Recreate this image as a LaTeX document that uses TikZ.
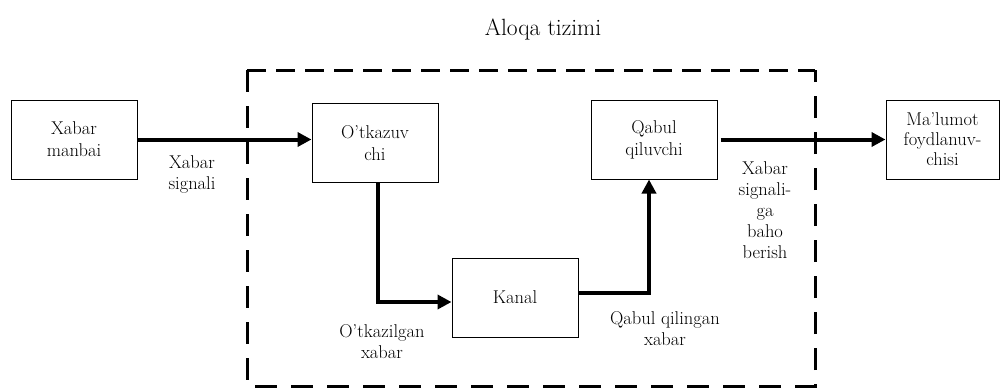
\documentclass[tikz,border=0pt]{standalone}
\usepackage{tikz}
\usetikzlibrary{positioning}
\usetikzlibrary{arrows.meta}
\usetikzlibrary{calc}
\tikzstyle{block}=[rectangle,draw,line width=1pt,minimum width=126pt,minimum height=79pt,inner sep=2pt,align=center,font=\fontsize{18.5}{22}\selectfont]
\tikzstyle{edge} = [draw,line width=4pt,-{Triangle[length=14pt,width=14pt]}]
\tikzstyle{weight} = [align=center,font=\fontsize{18.5}{21}\selectfont]
\tikzset{sysframe/.style={draw,line width=3pt,dash pattern=on 19pt off 10pt}}

\begin{document}
\begin{tikzpicture}[x=1pt,y=-1pt,auto,swap]

  \useasboundingbox (0,0) rectangle (1001,388);

   \foreach \x/\y/\name/\label in {74/139.5/src/{Xabar\\manbai}, 375/143/tx/{O’tkazuv\\chi}, 515/297.5/kanal/Kanal, 654/139.5/rx/{Qabul\\qiluvchi}}
          \node[block] (\name) at (\x,\y) {\label};

   \node[block, minimum width=113pt, inner sep=1pt, font=\fontsize{18.5}{20}\selectfont] (usr) at (942.5,139.5) {Ma’lumot\\foydlanuv-\\chisi};

  % aloqa tizimi chegarasi
  \draw[sysframe] (247,70) -- (815,70);
  \draw[sysframe, dash pattern=on 22pt off 14pt] (247,70) -- (247,386) -- (815,386) -- (815,70);
  \node[font=\fontsize{23.5}{27}\selectfont] (title) at (543,29) {Aloqa tizimi};

  \path[edge] (src.east) -- (src.east -| tx.west);
  \path[edge] ([xshift=3pt]tx.south) |- ([yshift=-4.5pt]kanal.west);
  \path[edge] ([yshift=4.5pt]kanal.east) -| ([xshift=-5pt]rx.south);
  \path[edge] ([xshift=3pt]rx.east) -- (usr.west);

   \foreach \x/\y/\name/\label in {192/174/lsig/{Xabar\\signali}, 382/341.5/ltx/{O’tkazilgan\\xabar}, 665/329/lrx/{Qabul qilingan\\xabar}, 765/210/lest/{Xabar\\signali-\\ga\\baho\\berish}}
          \node[weight] (\name) at (\x,\y) {\label};

\end{tikzpicture}
\end{document}
